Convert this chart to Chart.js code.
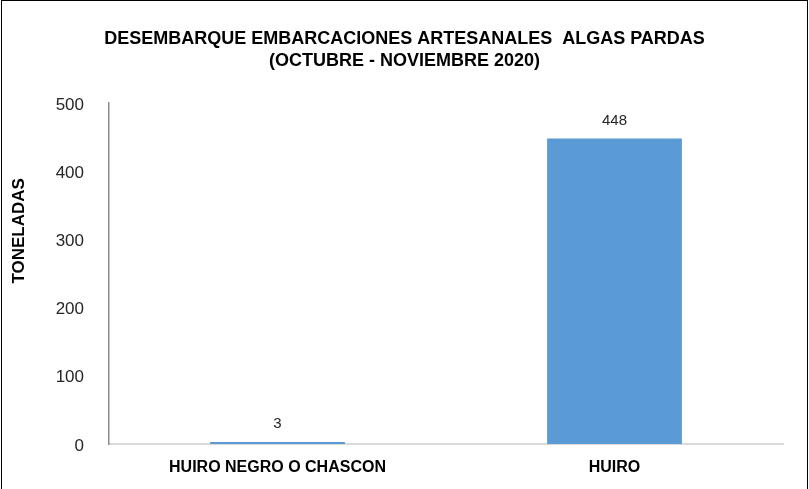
<!DOCTYPE html>
<html>
<head>
<meta charset="utf-8">
<script src="https://cdn.jsdelivr.net/npm/chart.js@4/dist/chart.umd.min.js"></script>
<style>
  html, body { margin: 0; padding: 0; background: #ffffff; }
  #wrap { width: 809px; height: 489px; position: relative; }
</style>
</head>
<body>
<div id="wrap"><canvas id="chart" width="809" height="489"></canvas></div>
<script>
// Data
const categories = ["HUIRO NEGRO O CHASCON", "HUIRO"];
const toneladas = [3, 448];
const titleLines = ["DESEMBARQUE EMBARCACIONES ARTESANALES  ALGAS PARDAS", "(OCTUBRE - NOVIEMBRE 2020)"];
const yTitle = "TONELADAS";

const FONT = "'Liberation Sans', Arial, sans-serif";

// Draw the value above each bar (no datalabels plugin available offline)
const valueLabels = {
  id: "valueLabels",
  afterDatasetsDraw(chart) {
    const ctx = chart.ctx;
    const meta = chart.getDatasetMeta(0);
    ctx.save();
    ctx.font = "15px " + FONT;
    ctx.fillStyle = "#262626";
    ctx.textAlign = "center";
    ctx.textBaseline = "middle";
    meta.data.forEach((bar, i) => {
      ctx.fillText(String(toneladas[i]), bar.x, bar.y - 18);
    });
    ctx.restore();
  }
};

// Y axis title sits a bit above the middle in the original, so draw it by hand
const yAxisTitle = {
  id: "yAxisTitle",
  afterDraw(chart) {
    const ctx = chart.ctx;
    const area = chart.chartArea;
    ctx.save();
    ctx.translate(19, area.top + (area.bottom - area.top) * 0.375);
    ctx.rotate(-Math.PI / 2);
    ctx.font = "bold 17px " + FONT;
    ctx.fillStyle = "#000000";
    ctx.textAlign = "center";
    ctx.textBaseline = "middle";
    ctx.fillText(yTitle, 0, 0);
    ctx.restore();
  }
};

// Thin black frame round the picture
const frame = {
  id: "frame",
  afterDraw(chart) {
    const ctx = chart.ctx;
    ctx.save();
    ctx.strokeStyle = "#000000";
    ctx.lineWidth = 1;
    ctx.strokeRect(1.5, 0.5, chart.width - 3, chart.height + 5);
    ctx.restore();
  }
};

new Chart(document.getElementById("chart").getContext("2d"), {
  type: "bar",
  data: {
    labels: categories,
    datasets: [{
      label: yTitle,
      data: toneladas,
      backgroundColor: "#5B9BD5",
      categoryPercentage: 1,
      barPercentage: 0.4
    }]
  },
  options: {
    responsive: false,
    animation: false,
    layout: { padding: { left: 26, right: 26, top: 0, bottom: 0 } },
    plugins: {
      legend: { display: false },
      tooltip: { enabled: false },
      title: {
        display: true,
        text: titleLines,
        color: "#000000",
        font: { family: FONT, size: 18, weight: "bold", lineHeight: 1.22 },
        padding: { top: 28, bottom: 31 }
      }
    },
    scales: {
      x: {
        grid: { display: false },
        border: { display: true, color: "#d9d9d9", width: 2 },
        ticks: {
          color: "#000000",
          padding: 6,
          font: { family: FONT, size: 16, weight: "bold" }
        },
        afterFit(scale) { scale.height = 45; }
      },
      y: {
        min: 0,
        max: 500,
        grid: { display: false },
        border: { display: true, color: "#8c8c8c", width: 1.5 },
        ticks: {
          stepSize: 100,
          color: "#262626",
          padding: 17,
          labelOffset: 2,
          font: { family: FONT, size: 17 }
        },
        afterFit(scale) { scale.width = 83; }
      }
    }
  },
  plugins: [valueLabels, yAxisTitle, frame]
});
</script>
</body>
</html>
